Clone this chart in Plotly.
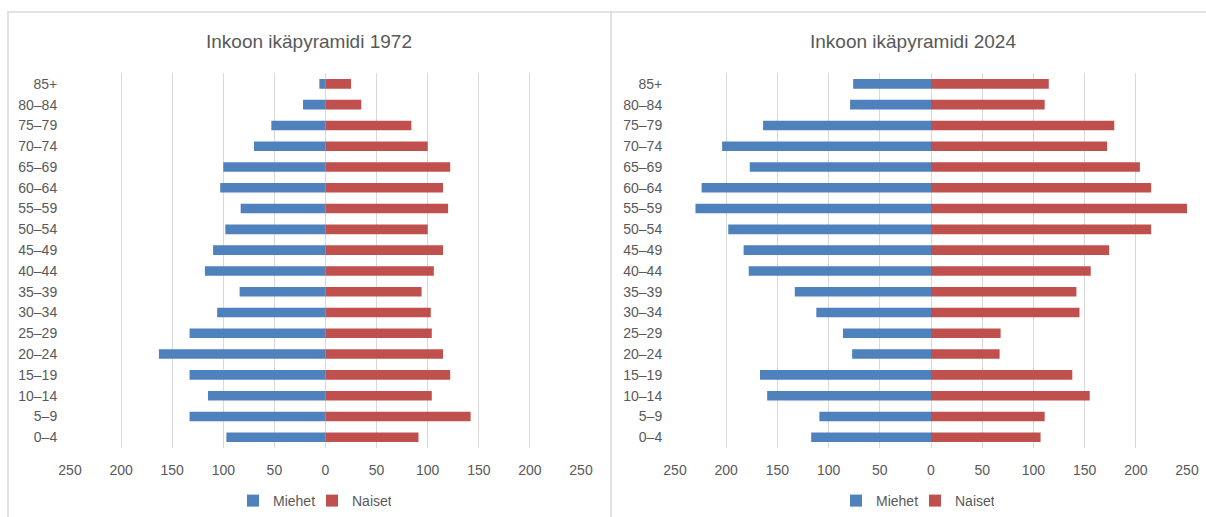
import plotly.graph_objects as go

W, H = 1206, 517

age_groups = ["0–4", "5–9", "10–14", "15–19", "20–24", "25–29", "30–34", "35–39",
              "40–44", "45–49", "50–54", "55–59", "60–64", "65–69", "70–74",
              "75–79", "80–84", "85+"]

men_1972 = [97, 133, 115, 133, 163, 133, 106, 84, 118, 110, 98, 83, 103, 100, 70, 53, 22, 6]
women_1972 = [91, 142, 104, 122, 115, 104, 103, 94, 106, 115, 100, 120, 115, 122, 100, 84, 35, 25]

men_2024 = [117, 109, 160, 167, 77, 86, 112, 133, 178, 183, 198, 230, 224, 177, 204, 164, 79, 76]
women_2024 = [107, 111, 155, 138, 67, 68, 145, 142, 156, 174, 215, 250, 215, 204, 172, 179, 111, 115]

tick_vals = [-250, -200, -150, -100, -50, 0, 50, 100, 150, 200, 250]
tick_text = ["250", "200", "150", "100", "50", "0", "50", "100", "150", "200", "250"]

BLUE = "#4F81BD"
RED = "#C0504D"
GRID = "#D9D9D9"
TEXT = "#595959"
FONT = "Liberation Sans, Arial, sans-serif"


def px_x(v):
    return v / W


def px_y(v):
    return 1 - v / H


fig = go.Figure()

panels = [
    ("x", "y", "legend", men_1972, women_1972),
    ("x2", "y2", "legend2", men_2024, women_2024),
]
for xa, ya, lg, men, women in panels:
    fig.add_trace(go.Bar(
        y=age_groups, x=[-m for m in men], orientation="h", name="Miehet",
        marker=dict(color=BLUE, line=dict(width=0)), width=0.46,
        xaxis=xa, yaxis=ya, legend=lg,
        customdata=men, hovertemplate="%{y}: %{customdata}<extra>Miehet</extra>",
    ))
    fig.add_trace(go.Bar(
        y=age_groups, x=women, orientation="h", name="Naiset",
        marker=dict(color=RED, line=dict(width=0)), width=0.46,
        xaxis=xa, yaxis=ya, legend=lg,
        hovertemplate="%{y}: %{x}<extra>Naiset</extra>",
    ))

xax = dict(
    range=[-250, 250], tickvals=tick_vals, ticktext=tick_text,
    showgrid=True, gridcolor=GRID, gridwidth=1,
    zeroline=True, zerolinecolor=GRID, zerolinewidth=1,
    showline=False, ticks="outside", ticklen=10, tickcolor="rgba(0,0,0,0)",
    tickfont=dict(family=FONT, size=14, color=TEXT), fixedrange=True,
    automargin=False,
)
yax = dict(
    type="category", categoryorder="array", categoryarray=age_groups,
    range=[-0.5, 17.5], showgrid=False, zeroline=False, showline=False,
    ticks="outside", ticklen=9, tickcolor="rgba(0,0,0,0)",
    tickfont=dict(family=FONT, size=14, color=TEXT), fixedrange=True,
    automargin=False,
)

ydom = [px_y(448.5), px_y(73.6)]

legend_common = dict(
    orientation="h", xanchor="center", yanchor="middle",
    font=dict(family=FONT, size=14, color=TEXT), bgcolor="rgba(0,0,0,0)",
    itemwidth=30, tracegroupgap=0, entrywidth=34, entrywidthmode="pixels",
)

fig.update_layout(
    width=W, height=H,
    margin=dict(l=0, r=0, t=0, b=0, pad=0),
    paper_bgcolor="white", plot_bgcolor="white",
    barmode="relative", bargap=0.54,
    font=dict(family=FONT, color=TEXT),
    xaxis=dict(domain=[px_x(70), px_x(581)], anchor="y", **xax),
    yaxis=dict(domain=ydom, anchor="x", **yax),
    xaxis2=dict(domain=[px_x(675), px_x(1187)], anchor="y2", **xax),
    yaxis2=dict(domain=ydom, anchor="x2", **yax),
    legend=dict(x=px_x(312), y=px_y(502), **legend_common),
    legend2=dict(x=px_x(915), y=px_y(502), **legend_common),
    showlegend=True,
    annotations=[
        dict(text="Inkoon ikäpyramidi 1972", x=px_x(309), y=px_y(42),
             xref="paper", yref="paper", showarrow=False,
             xanchor="center", yanchor="middle",
             font=dict(family=FONT, size=19, color=TEXT)),
        dict(text="Inkoon ikäpyramidi 2024", x=px_x(913), y=px_y(42),
             xref="paper", yref="paper", showarrow=False,
             xanchor="center", yanchor="middle",
             font=dict(family=FONT, size=19, color=TEXT)),
    ],
    shapes=[
        dict(type="rect", xref="paper", yref="paper",
             x0=px_x(8), x1=px_x(611), y0=-0.1, y1=px_y(12),
             line=dict(color=GRID, width=1.5), layer="below"),
        dict(type="line", xref="paper", yref="paper",
             x0=px_x(611), x1=1.0, y0=px_y(12), y1=px_y(12),
             line=dict(color=GRID, width=1.5), layer="below"),
    ],
)

fig.write_html(
    "out.html",
    config={"displayModeBar": False},
    post_script="document.body.style.margin='0';document.body.style.overflow='hidden';",
)
